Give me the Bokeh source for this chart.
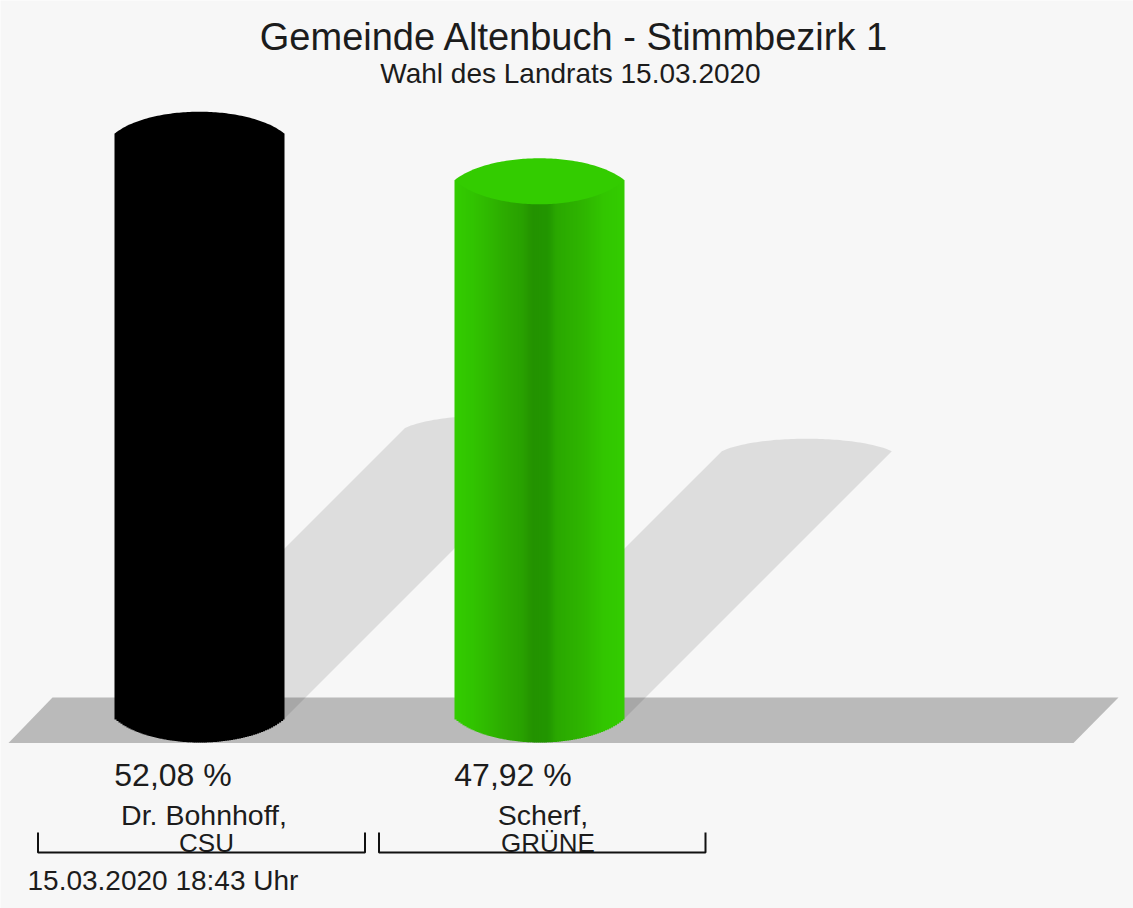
from bokeh.plotting import figure
from bokeh.models import Range1d, ColumnDataSource
from bokeh.core.properties import value
from bokeh.embed import file_html
from bokeh.resources import INLINE
import numpy as np

# ---- data
candidates = ["Dr. Bohnhoff,", "Scherf,"]
parties = ["CSU", "GRÜNE"]
percents = [52.08, 47.92]
percent_labels = ["52,08 %", "47,92 %"]
title = "Gemeinde Altenbuch - Stimmbezirk 1"
subtitle = "Wahl des Landrats 15.03.2020"
stamp = "15.03.2020 18:43 Uhr"

# ---- layout (page pixels)
W, H = 1133, 908
BASE = 718.0
PX_PER_PCT = 11.19
CENTERS = [199, 539]
RX = 85
RY = 24
LENS = 1.12   # arcs are cut from a slightly wider ellipse, so they meet the sides at a corner
BG = "#f7f7f7"
FONT = value("Liberation Sans")
TXT = "#1c1c1c"

def Y(py):
    return (BASE - py) / PX_PER_PCT

def arc(offset, height):
    """Height (px) of the lens-shaped arc at horizontal offset from the centre."""
    edge = np.sqrt(1 - 1 / LENS ** 2)
    return height * (np.sqrt(1 - (np.asarray(offset) / (LENS * RX)) ** 2) - edge) / (1 - edge)

p = figure(width=W, height=H, output_backend="svg", toolbar_location=None,
           x_range=Range1d(0, W), y_range=Range1d(Y(H), Y(0)),
           min_border=0, background_fill_color=BG, border_fill_color=BG)
p.axis.visible = False
p.grid.visible = False
p.outline_line_color = None

# ground plane
p.patch([8, 1073, 1118, 52], [Y(742.5), Y(742.5), Y(697), Y(697)],
        fill_color="#bababa", line_color=None)

# shadows (sheared cylinders)
for cx, v in zip(CENTERS, percents):
    dy = v * PX_PER_PCT * 0.4985
    dx = dy * 1.0
    off = np.linspace(RX, -RX, 60)
    ax = cx + dx + off
    ay = BASE - dy - arc(off, 12.5)
    xs = [cx + RX] + list(ax) + [cx - RX]
    ys = [BASE] + list(ay) + [BASE]
    p.patch(xs, [Y(a) for a in ys], fill_color="#000000", fill_alpha=0.1, line_color=None)

# cylinders
def lerp_stops(u, stops):
    pos = [s[0] for s in stops]
    return tuple(int(round(np.interp(u, pos, [s[1][i] for s in stops]))) for i in range(3))

green_stops = [(0.0, (0x33, 0xcc, 0x00)), (0.10, (0x31, 0xc4, 0x00)), (0.20, (0x2f, 0xb8, 0x00)),
               (0.30, (0x2c, 0xaa, 0x00)), (0.40, (0x28, 0xa0, 0x00)), (0.46, (0x23, 0x92, 0x00)),
               (0.55, (0x22, 0x96, 0x00)), (0.60, (0x2a, 0xa8, 0x00)), (0.75, (0x2e, 0xb4, 0x00)),
               (0.88, (0x32, 0xc6, 0x00)), (1.0, (0x33, 0xcc, 0x00))]
black_stops = [(0.0, (0, 0, 0)), (1.0, (0, 0, 0))]
top_colors = ["#000000", "#33cc00"]
all_stops = [black_stops, green_stops]

for cx, v, stops, top_c in zip(CENTERS, percents, all_stops, top_colors):
    edges = np.arange(-RX, RX, 2.0)
    left = cx + edges
    right = np.minimum(left + 2.6, cx + RX)
    mid = (left + np.minimum(left + 2, cx + RX)) / 2
    u = (mid - (cx - RX)) / (2 * RX)
    bottoms = [Y(BASE + RY * float(arc(m - cx, 1.0))) for m in mid]
    colors = ["#%02x%02x%02x" % lerp_stops(a, stops) for a in u]
    src = ColumnDataSource(dict(left=left, right=right, bottom=bottoms, top=[v + 2 / PX_PER_PCT] * len(left), c=colors))
    p.quad(left="left", right="right", bottom="bottom", top="top", fill_color="c",
           line_color=None, source=src)
    # top cap: a lens of two arcs, pointed at the sides
    top_off = np.linspace(-RX, RX, 80)
    cap_y = BASE - v * PX_PER_PCT - 2
    upper = cap_y - arc(top_off, 22)
    lower = cap_y + arc(top_off[::-1], 24)
    p.patch(list(cx + top_off) + list(cx + top_off[::-1]),
            [Y(a) for a in list(upper) + list(lower)],
            fill_color=top_c, line_color=None)

# texts
def txt(x, py, s, size, align="center"):
    p.text(x=[x], y=[Y(py)], text=[s], text_font=FONT, text_font_size=size, text_color=TXT,
           text_align=align, text_baseline="middle")

txt(574, 36, title, "38px")
txt(570, 73, subtitle, "28px")
label_x = [172.5, 512.5]
for x, s in zip(label_x, percent_labels):
    txt(x, 774, s, "32px")
name_x = [203.5, 542.5]
party_x = [206, 547.5]
for x, s in zip(name_x, candidates):
    txt(x, 814, s, "28.5px")
for x, s in zip(party_x, parties):
    txt(x, 842, s, "26px")
txt(27, 880, stamp, "28px", "left")

# brackets
for x0, x1 in [(37.5, 364.5), (378.5, 705)]:
    p.line([x0, x0, x1, x1], [Y(832), Y(852), Y(852), Y(832)], line_color="#111111", line_width=2)

html = file_html(p, INLINE).replace(
    "<body>", '<body style="margin:0;overflow:hidden;background:%s">' % BG, 1)
open("out.html", "w").write(html)
